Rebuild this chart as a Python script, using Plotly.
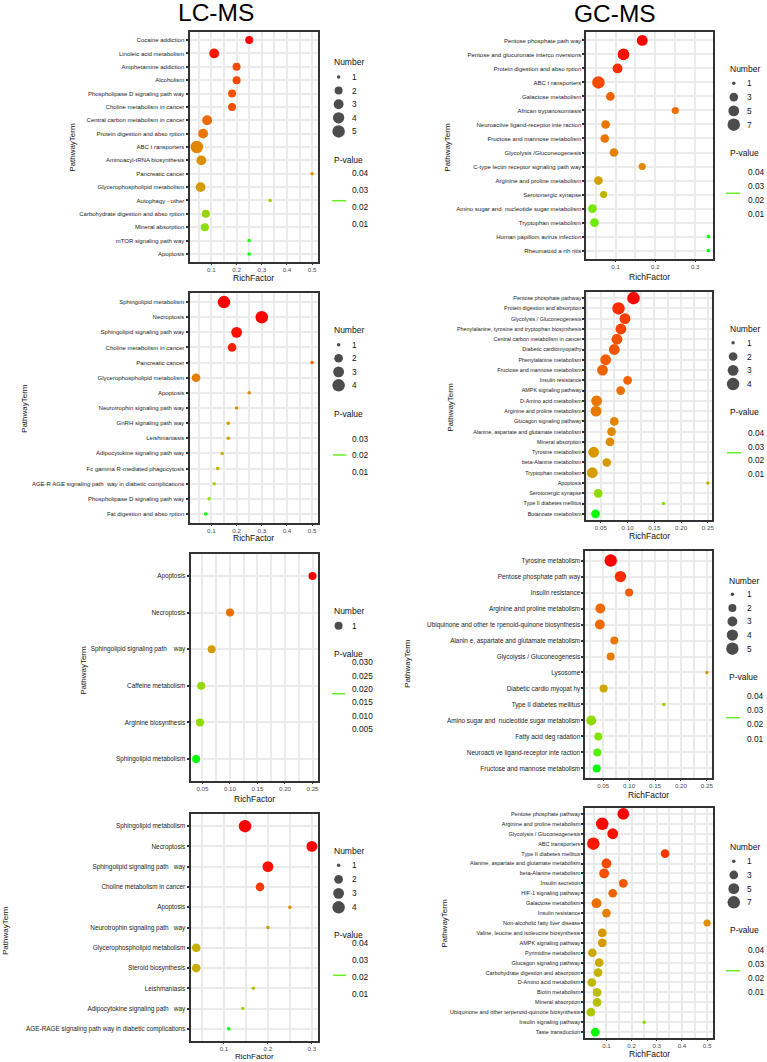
import plotly.graph_objects as go

W, H = 767, 1062
FONT = "Liberation Sans, Arial, sans-serif"

# ---------------- DATA ----------------
# LC-MS, row 1
lc1_terms = ["Cocaine addiction", "Linoleic acid metabolism", "Amphetamine addiction", "Alcoholism",
             "Phospholipase D signaling path way", "Choline metabolism in cancer",
             "Central carbon metabolism in cancer", "Protein digestion and abso rption", "ABC t ransporters",
             "Aminoacyl-tRNA biosynthesis", "Pancreatic cancer", "Glycerophospholipid metabolism",
             "Autophagy - other", "Carbohydrate digestion and abso rption", "Mineral absorption",
             "mTOR signaling path way", "Apoptosis"]
lc1_rich = [0.25, 0.111, 0.2, 0.2, 0.182, 0.182, 0.083, 0.067, 0.042, 0.06, 0.5, 0.057, 0.333, 0.078, 0.074, 0.25, 0.25]
lc1_num = [2, 3, 2, 2, 2, 2, 3, 3, 5, 3, 1, 3, 1, 2, 2, 1, 1]
lc1_p = [0.0050, 0.0062, 0.0090, 0.0090, 0.0098, 0.0098, 0.0130, 0.0150, 0.0178, 0.0194, 0.0202, 0.0218,
         0.0322, 0.0346, 0.0370, 0.0438, 0.0450]
lc1_num_legend = [1, 2, 3, 4, 5]
lc1_p_ticks = ["0.04", "0.03", "0.02", "0.01"]

# GC-MS, row 1
gc1_terms = ["Pentose phosphate path way", "Pentose and glucuronate interco nversions",
             "Protein digestion and abso rption", "ABC t ransporters", "Galactose metabolism",
             "African trypanosomiasis", "Neuroactive ligand-receptor inte raction",
             "Fructose and mannose metabolism", "Glycolysis /Gluconeogenesis",
             "C-type lectin receptor signaling path way", "Arginine and proline metabolism",
             "Serotonergic synapse", "Amino sugar and  nucleotide sugar metabolism", "Tryptophan metabolism",
             "Human papillom avirus infection", "Rheumatoid a rth ritis"]
gc1_rich = [0.167, 0.12, 0.105, 0.057, 0.087, 0.25, 0.075, 0.073, 0.096, 0.167, 0.057, 0.07, 0.042, 0.047, 0.333, 0.333]
gc1_num = [5, 6, 4, 7, 3, 2, 3, 3, 3, 2, 3, 2, 3, 3, 1, 1]
gc1_p = [0.0030, 0.0039, 0.0057, 0.0075, 0.0111, 0.0129, 0.0138, 0.0143, 0.0165, 0.0179, 0.0233, 0.0278,
         0.0413, 0.0426, 0.0480, 0.0480]
gc1_num_legend = [1, 3, 5, 7]
gc1_p_ticks = ["0.04", "0.03", "0.02", "0.01"]

# LC-MS, row 2
lc2_terms = ["Sphingolipid metabolism", "Necroptosis", "Sphingolipid signaling path way",
             "Choline metabolism in cancer", "Pancreatic cancer", "Glycerophospholipid metabolism", "Apoptosis",
             "Neurotrophin signaling path way", "GnRH signaling path way", "Leishmaniasis",
             "Adipocytokine signaling path way", "Fc gamma R-mediated phagocytosis",
             "AGE-R AGE signaling path  way in diabetic complications", "Phospholipase D signaling path way",
             "Fat digestion and abso rption"]
lc2_rich = [0.15, 0.3, 0.2, 0.182, 0.5, 0.039, 0.25, 0.2, 0.167, 0.167, 0.143, 0.125, 0.111, 0.091, 0.077]
lc2_num = [4, 4, 3, 2, 1, 2, 1, 1, 1, 1, 1, 1, 1, 1, 1]
lc2_p = [0.0030, 0.0030, 0.0036, 0.0042, 0.0084, 0.0114, 0.0126, 0.0132, 0.0156, 0.0162, 0.0180, 0.0198,
         0.0225, 0.0270, 0.0330]
lc2_num_legend = [1, 2, 3, 4]
lc2_p_ticks = ["0.03", "0.02", "0.01"]

# GC-MS, row 2
gc2_terms = ["Pentose phosphate pathway", "Protein digestion and absorption", "Glycolysis / Gluconeogenesis",
             "Phenylalanine, tyrosine and tryptophan biosynthesis", "Central carbon metabolism in cancer",
             "Diabetic cardiomyopathy", "Phenylalanine metabolism", "Fructose and mannose metabolism",
             "Insulin resistance", "AMPK signaling pathway", "D-Amino acid metabolism",
             "Arginine and proline metabolism", "Glucagon signaling pathway",
             "Alanine, aspartate and glutamate metabolism", "Mineral absorption", "Tyrosine metabolism",
             "beta-Alanine metabolism", "Tryptophan metabolism", "Apoptosis", "Serotonergic synapse",
             "Type II diabetes mellitus", "Butanoate metabolism"]
gc2_rich = [0.111, 0.083, 0.095, 0.0875, 0.08, 0.075, 0.059, 0.053, 0.1, 0.087, 0.042, 0.041, 0.075, 0.07,
            0.067, 0.0365, 0.061, 0.034, 0.25, 0.045, 0.167, 0.04]
gc2_num = [4, 4, 3, 3, 3, 3, 3, 3, 2, 2, 3, 3, 2, 2, 2, 3, 2, 3, 1, 2, 1, 2]
gc2_p = [0.0040, 0.0066, 0.0075, 0.0080, 0.0093, 0.0097, 0.0110, 0.0115, 0.0119, 0.0137, 0.0154, 0.0159,
         0.0172, 0.0185, 0.0194, 0.0216, 0.0225, 0.0229, 0.0282, 0.0383, 0.0401, 0.0480]
gc2_num_legend = [1, 2, 3, 4]
gc2_p_ticks = ["0.04", "0.03", "0.02", "0.01"]

# LC-MS, row 3
lc3_terms = ["Apoptosis", "Necroptosis", "Sphingolipid signaling path    way", "Caffeine metabolism",
             "Arginine biosynthesis", "Sphingolipid metabolism"]
lc3_rich = [0.25, 0.1, 0.0667, 0.0476, 0.0455, 0.0385]
lc3_num = [1, 1, 1, 1, 1, 1]
lc3_p = [0.0030, 0.0094, 0.0152, 0.0250, 0.0256, 0.0320]
lc3_num_legend = [1]
lc3_p_ticks = ["0.030", "0.025", "0.020", "0.015", "0.010", "0.005"]

# GC-MS, row 3
gc3_terms = ["Tyrosine metabolism", "Pentose phosphate path way", "Insulin resistance",
             "Arginine and proline metabolism", "Ubiquinone and other te rpenoid-quinone biosynthesis",
             "Alanin e, aspartate and glutamate metabolism", "Glycolysis / Gluconeogenesis", "Lysosome",
             "Diabetic cardio myopat hy", "Type II diabetes mellitus",
             "Amino sugar and  nucleotide sugar metabolism", "Fatty acid deg radation",
             "Neuroacti ve ligand-receptor inte raction", "Fructose and mannose metabolism"]
gc3_rich = [0.0645, 0.0833, 0.1, 0.0444, 0.0435, 0.0714, 0.0645, 0.25, 0.0508, 0.167, 0.027, 0.0406, 0.0387, 0.0375]
gc3_num = [5, 4, 2, 3, 3, 2, 2, 1, 2, 1, 3, 2, 2, 2]
gc3_p = [0.0040, 0.0066, 0.0110, 0.0128, 0.0132, 0.0154, 0.0163, 0.0216, 0.0251, 0.0357, 0.0374, 0.0401,
         0.0445, 0.0480]
gc3_num_legend = [1, 2, 3, 4, 5]
gc3_p_ticks = ["0.04", "0.03", "0.02", "0.01"]

# LC-MS, row 4
lc4_terms = ["Sphingolipid metabolism", "Necroptosis", "Sphingolipid signaling path   way",
             "Choline metabolism in cancer", "Apoptosis", "Neurotrophin signaling path   way",
             "Glycerophospholipid metabolism", "Steroid biosynthesis", "Leishmaniasis",
             "Adipocytokine signaling path   way", "AGE-RAGE signaling path way in diabetic complications"]
lc4_rich = [0.148, 0.3, 0.2, 0.182, 0.25, 0.2, 0.037, 0.037, 0.167, 0.143, 0.111]
lc4_num = [4, 3, 3, 2, 1, 1, 2, 2, 1, 1, 1]
lc4_p = [0.0040, 0.0040, 0.0049, 0.0075, 0.0194, 0.0225, 0.0269, 0.0269, 0.0304, 0.0357, 0.0480]
lc4_num_legend = [1, 2, 3, 4]
lc4_p_ticks = ["0.04", "0.03", "0.02", "0.01"]

# GC-MS, row 4
gc4_terms = ["Pentose phosphate pathway", "Arginine and proline metabolism", "Glycolysis / Gluconeogenesis",
             "ABC transporters", "Type II diabetes mellitus", "Alanine, aspartate and glutamate metabolism",
             "beta-Alanine metabolism", "Insulin secretion", "HIF-1 signaling pathway", "Galactose metabolism",
             "Insulin resistance", "Non-alcoholic fatty liver disease",
             "Valine, leucine and isoleucine biosynthesis", "AMPK signaling pathway", "Pyrimidine metabolism",
             "Glucagon signaling pathway", "Carbohydrate digestion and absorption", "D-Amino acid metabolism",
             "Biotin metabolism", "Mineral absorption", "Ubiquinone and other terpenoid-quinone biosynthesis",
             "Insulin signaling pathway", "Taste transduction"]
gc4_rich = [0.167, 0.0833, 0.125, 0.048, 0.333, 0.1, 0.0909, 0.167, 0.125, 0.0606, 0.1, 0.5, 0.0833, 0.0833,
            0.044, 0.071, 0.0667, 0.042, 0.063, 0.063, 0.038, 0.25, 0.0556]
gc4_num = [6, 7, 5, 7, 3, 4, 4, 3, 3, 4, 3, 2, 3, 3, 3, 3, 3, 3, 3, 3, 3, 1, 3]
gc4_p = [0.0030, 0.0035, 0.0039, 0.0044, 0.0062, 0.0075, 0.0080, 0.0093, 0.0111, 0.0129, 0.0165, 0.0192,
         0.0210, 0.0215, 0.0246, 0.0255, 0.0273, 0.0282, 0.0300, 0.0305, 0.0327, 0.0390, 0.0480]
gc4_num_legend = [1, 3, 5, 7]
gc4_p_ticks = ["0.04", "0.03", "0.02", "0.01"]

column_titles = ["LC-MS", "GC-MS"]


# ---------------- STYLE HELPERS ----------------
def lab_ramp(c_lo, c_hi, n=11):
    def s2l(c):
        c = c / 255.0
        return c / 12.92 if c <= 0.04045 else ((c + 0.055) / 1.055) ** 2.4

    def l2s(c):
        c = max(0.0, min(1.0, c))
        v = 12.92 * c if c <= 0.0031308 else 1.055 * c ** (1 / 2.4) - 0.055
        return int(round(v * 255))

    def rgb2lab(rgb):
        r, g, b = [s2l(v) for v in rgb]
        X = (0.4124 * r + 0.3576 * g + 0.1805 * b) / 0.95047
        Y = 0.2126 * r + 0.7152 * g + 0.0722 * b
        Z = (0.0193 * r + 0.1192 * g + 0.9505 * b) / 1.08883
        f = lambda t: t ** (1 / 3) if t > 0.008856 else 7.787 * t + 16 / 116
        fx, fy, fz = f(X), f(Y), f(Z)
        return (116 * fy - 16, 500 * (fx - fy), 200 * (fy - fz))

    def lab2rgb(lab):
        L, a, b = lab
        fy = (L + 16) / 116
        fx = fy + a / 500
        fz = fy - b / 200
        finv = lambda t: t ** 3 if t ** 3 > 0.008856 else (t - 16 / 116) / 7.787
        X, Y, Z = finv(fx) * 0.95047, finv(fy), finv(fz) * 1.08883
        r = 3.2406 * X - 1.5372 * Y - 0.4986 * Z
        g = -0.9689 * X + 1.8758 * Y + 0.0415 * Z
        bb = 0.0557 * X - 0.2040 * Y + 1.0570 * Z
        return tuple(l2s(v) for v in (r, g, bb))

    lo, hi = rgb2lab(c_lo), rgb2lab(c_hi)
    out = []
    for i in range(n):
        t = i / (n - 1)
        r, g, b = lab2rgb(tuple(lo[k] + (hi[k] - lo[k]) * t for k in range(3)))
        out.append([t, f"rgb({r},{g},{b})"])
    return out


CSCALE = lab_ramp((255, 0, 0), (0, 255, 0))


def diam(n, nmin, nmax):
    if nmax == nmin:
        frac = 0.25
    else:
        frac = max(0.0, (n - nmin) / (nmax - nmin))
    return 3.5 + 9.0 * frac ** 0.5


def px(x):
    return x / W


def py(y):
    return 1 - y / H


panels = [
    dict(terms=lc1_terms, rich=lc1_rich, num=lc1_num, pv=lc1_p, nleg=lc1_num_legend, pt=lc1_p_ticks,
         box=(190, 319, 32, 262), xr=(0.013, 0.524), dt=0.1, fmt=".1f", lfs=6.0,
         ytitle=(72, 147), xtitle_y=278, xtfs=8.5,
         leg=dict(num=(333, 62), dotx=339.5, labx=351, y0=77, dy=13.6, pvt=(333, 160), ptx=351,
                  pty0=173.3, ptdy=16.9, green=(333, 347, 200.7))),
    dict(terms=gc1_terms, rich=gc1_rich, num=gc1_num, pv=gc1_p, nleg=gc1_num_legend, pt=gc1_p_ticks,
         box=(588, 715, 32, 259), xr=(0.027, 0.345), dt=0.1, fmt=".1f", lfs=6.0,
         ytitle=(448, 147), xtitle_y=276.5, xtfs=8.5,
         leg=dict(num=(730, 69), dotx=735.7, labx=747, y0=83.3, dy=13.8, pvt=(730, 152.7), ptx=748,
                  pty0=172.3, ptdy=13.8, green=(728, 742, 193.3))),
    dict(terms=lc2_terms, rich=lc2_rich, num=lc2_num, pv=lc2_p, nleg=lc2_num_legend, pt=lc2_p_ticks,
         box=(190, 319, 293, 523), xr=(0.013, 0.524), dt=0.1, fmt=".1f", lfs=6.0,
         ytitle=(24, 408), xtitle_y=538, xtfs=8.5,
         leg=dict(num=(333, 330), dotx=339.5, labx=351, y0=344.7, dy=13.55, pvt=(333, 414), ptx=351,
                  pty0=438.7, ptdy=16.65, green=(334, 347, 455))),
    dict(terms=gc2_terms, rich=gc2_rich, num=gc2_num, pv=gc2_p, nleg=gc2_num_legend, pt=gc2_p_ticks,
         box=(588, 714, 292, 520), xr=(0.0231, 0.258), dt=0.05, fmt=".2f", lfs=5.4,
         ytitle=(451, 407), xtitle_y=536, xtfs=8.5,
         leg=dict(num=(730, 328.7), dotx=735, labx=747, y0=342.7, dy=13.8, pvt=(730, 412.3), ptx=748,
                  pty0=433.3, ptdy=13.55, green=(729, 743, 452.7))),
    dict(terms=lc3_terms, rich=lc3_rich, num=lc3_num, pv=lc3_p, nleg=lc3_num_legend, pt=lc3_p_ticks,
         box=(191, 319, 554, 781), xr=(0.0283, 0.2603), dt=0.05, fmt=".2f", lfs=6.4,
         ytitle=(83, 670), xtitle_y=798.5, xtfs=8.5,
         leg=dict(num=(333, 610.7), dotx=339.5, labx=351, y0=625.7, dy=13.6, pvt=(333, 654), ptx=351,
                  pty0=662.3, ptdy=13.34, green=(333, 346, 693.7))),
    dict(terms=gc3_terms, rich=gc3_rich, num=gc3_num, pv=gc3_p, nleg=gc3_num_legend, pt=gc3_p_ticks,
         box=(587, 714, 551, 778), xr=(0.0158, 0.2602), dt=0.05, fmt=".2f", lfs=6.4,
         ytitle=(408, 663), xtitle_y=795, xtfs=8.5,
         leg=dict(num=(729, 580.7), dotx=734.3, labx=747, y0=594.3, dy=13.6, pvt=(729, 676.7), ptx=746.5,
                  pty0=695.7, ptdy=14.33, green=(728, 742, 717.7))),
    dict(terms=lc4_terms, rich=lc4_rich, num=lc4_num, pv=lc4_p, nleg=lc4_num_legend, pt=lc4_p_ticks,
         box=(191, 319, 814, 1041), xr=(0.024, 0.3143), dt=0.1, fmt=".1f", lfs=6.4,
         ytitle=(5, 930), xtitle_y=1056.8, xtfs=8.0,
         leg=dict(num=(333, 851.3), dotx=339.5, labx=351, y0=865.3, dy=14.0, pvt=(333, 934.7), ptx=351,
                  pty0=943.3, ptdy=16.8, green=(334, 347, 975.3))),
    dict(terms=gc4_terms, rich=gc4_rich, num=gc4_num, pv=gc4_p, nleg=gc4_num_legend, pt=gc4_p_ticks,
         box=(587, 715, 808, 1038), xr=(0.0167, 0.524), dt=0.1, fmt=".1f", lfs=5.5,
         ytitle=(445, 923), xtitle_y=1054, xtfs=8.5,
         leg=dict(num=(730, 847.3), dotx=735.7, labx=747, y0=861.3, dy=13.67, pvt=(730, 930), ptx=748,
                  pty0=950, ptdy=14.0, green=(728, 742, 970.7))),
]

fig = go.Figure()
layout = dict(width=W, height=H, margin=dict(l=0, r=0, t=0, b=0), paper_bgcolor="white",
              plot_bgcolor="white", showlegend=False, font=dict(family=FONT, color="#1a1a1a"))
annotations = []
shapes = []

GRID = "#EBEBEB"
LINE = "#333333"

for i, P in enumerate(panels):
    k = i + 1
    sfx = "" if k == 1 else str(k)
    x0, x1, y0, y1 = P["box"]
    n = len(P["terms"])
    nmin, nmax = min(P["num"]), max(P["num"])
    sizes = [diam(v, nmin, nmax) for v in P["num"]]
    fig.add_trace(go.Scatter(
        x=P["rich"], y=P["terms"], mode="markers", xaxis="x" + sfx, yaxis="y" + sfx,
        marker=dict(size=sizes, color=P["pv"], colorscale=CSCALE, cmin=min(P["pv"]), cmax=max(P["pv"]),
                    showscale=False, line=dict(width=0), opacity=1),
        hoverinfo="skip"))
    layout["xaxis" + sfx] = dict(
        domain=[px(x0), px(x1)], anchor="y" + sfx, range=list(P["xr"]), tick0=0, dtick=P["dt"],
        tickformat=P["fmt"], ticks="outside", ticklen=1, tickwidth=1, tickcolor=LINE,
        tickfont=dict(size=6.2, color="#4D4D4D", family=FONT), showgrid=True, gridcolor=GRID, gridwidth=2,
        minor=dict(tick0=0, dtick=P["dt"] / 2, showgrid=True, gridcolor=GRID, gridwidth=1.6, ticks=""),
        showline=True, mirror=True, linecolor=LINE, linewidth=2, zeroline=False, fixedrange=True)
    layout["yaxis" + sfx] = dict(
        domain=[py(y1), py(y0)], anchor="x" + sfx, type="category", categoryorder="array",
        categoryarray=P["terms"], range=[n - 0.4, -0.6], ticks="outside", ticklen=2, tickwidth=1.5,
        tickcolor=LINE, tickfont=dict(size=P["lfs"], color="#222222", family=FONT), showgrid=True,
        gridcolor=GRID, gridwidth=2, showline=True, mirror=True, linecolor=LINE, linewidth=2,
        zeroline=False, fixedrange=True)

    # axis titles
    annotations.append(dict(text="RichFactor", x=px((x0 + x1) / 2), y=py(P["xtitle_y"]), xref="paper",
                            yref="paper", showarrow=False, xanchor="center", yanchor="middle",
                            font=dict(size=P["xtfs"], color="#111", family=FONT)))
    annotations.append(dict(text="PathwayTerm", x=px(P["ytitle"][0]), y=py(P["ytitle"][1]), xref="paper",
                            yref="paper", showarrow=False, xanchor="center", yanchor="middle", textangle=-90,
                            font=dict(size=8, color="#111", family=FONT)))

    # ---- size legend (own small axis) ----
    L = P["leg"]
    lk = str(k + 8)
    lx0, lx1 = L["num"][0] - 4, L["num"][0] + 34
    ly0 = L["num"][1] - 6
    ly1 = L["y0"] + L["dy"] * (len(P["nleg"]) - 1) + 9
    item_y = [L["y0"] + j * L["dy"] for j in range(len(P["nleg"]))]
    fig.add_trace(go.Scatter(
        x=[L["dotx"]] * len(P["nleg"]), y=item_y, mode="markers", xaxis="x" + lk, yaxis="y" + lk,
        marker=dict(size=[diam(v, nmin, nmax) for v in P["nleg"]], color="black", line=dict(width=0)),
        hoverinfo="skip", cliponaxis=False))
    layout["xaxis" + lk] = dict(domain=[px(lx0), px(lx1)], range=[lx0, lx1], visible=False,
                                anchor="y" + lk, fixedrange=True)
    layout["yaxis" + lk] = dict(domain=[py(ly1), py(ly0)], range=[ly1, ly0], visible=False,
                                anchor="x" + lk, fixedrange=True)
    annotations.append(dict(text="Number", x=px(L["num"][0]), y=py(L["num"][1]), xref="paper", yref="paper",
                            showarrow=False, xanchor="left", yanchor="middle",
                            font=dict(size=8.5, color="#111", family=FONT)))
    for v, yy in zip(P["nleg"], item_y):
        annotations.append(dict(text=str(v), x=px(L["labx"]), y=py(yy), xref="paper", yref="paper",
                                showarrow=False, xanchor="left", yanchor="middle",
                                font=dict(size=8.3, color="#111", family=FONT)))
    # ---- P-value legend ----
    annotations.append(dict(text="P-value", x=px(L["pvt"][0]), y=py(L["pvt"][1]), xref="paper", yref="paper",
                            showarrow=False, xanchor="left", yanchor="middle",
                            font=dict(size=8.5, color="#111", family=FONT)))
    for j, t in enumerate(P["pt"]):
        annotations.append(dict(text=t, x=px(L["ptx"]), y=py(L["pty0"] + j * L["ptdy"]), xref="paper",
                                yref="paper", showarrow=False, xanchor="left", yanchor="middle",
                                font=dict(size=8.3, color="#111", family=FONT)))
    gx0, gx1, gy = L["green"]
    shapes.append(dict(type="line", xref="paper", yref="paper", x0=px(gx0), x1=px(gx1), y0=py(gy), y1=py(gy),
                       line=dict(color="#66EE22", width=1.5)))

# column titles
annotations.append(dict(text=column_titles[0], x=px(217), y=py(12.5), xref="paper", yref="paper",
                        showarrow=False, xanchor="center", yanchor="middle",
                        font=dict(size=24.5, color="black", family=FONT)))
annotations.append(dict(text=column_titles[1], x=px(617), y=py(13.5), xref="paper", yref="paper",
                        showarrow=False, xanchor="center", yanchor="middle",
                        font=dict(size=24.5, color="black", family=FONT)))

layout["annotations"] = annotations
layout["shapes"] = shapes
fig.update_layout(**layout)
fig.write_html("out.html")
